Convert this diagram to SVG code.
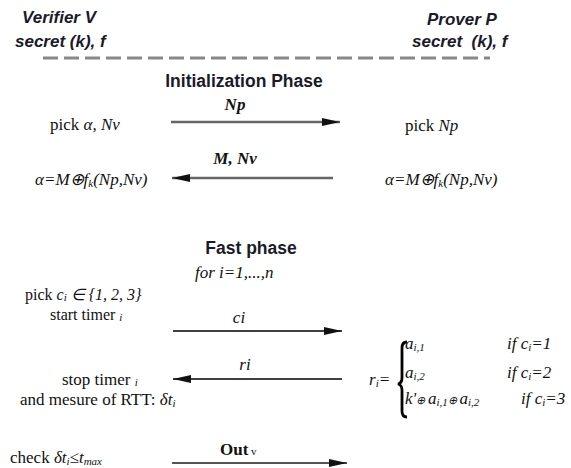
<svg xmlns="http://www.w3.org/2000/svg" width="571" height="468" viewBox="0 0 571 468">
<style>
.hd{font-family:"Liberation Sans",Arial,sans-serif;font-weight:bold;font-style:italic;font-size:17px;fill:#1a1a2a}
.ph{font-family:"Liberation Sans",Arial,sans-serif;font-weight:bold;font-size:17.5px;fill:#1a1a2a}
.t{font-family:"Liberation Serif","Times New Roman",serif;font-size:17px;fill:#111}
.i{font-style:italic}
.b{font-weight:bold}
.s{font-size:11px}
.m{font-size:16px}
.gl{stroke:#666;stroke-width:2.5;fill:none}
.bl{stroke:#000;stroke-width:1.5;fill:none}
.ol{stroke:#555;stroke-width:2;fill:none}
</style>
<defs>
<marker id="ag" viewBox="0 0 18 8" refX="18" refY="4" markerWidth="18" markerHeight="8" markerUnits="userSpaceOnUse" orient="auto"><path d="M0,0 L18,4 L0,8 z" fill="#111"/></marker>
</defs>
<g id="verifier">
<text class="hd" x="22" y="23">Verifier V</text>
<text class="hd" x="15" y="47">secret (k), f</text>
</g>
<g id="prover">
<text class="hd" x="427" y="25">Prover P</text>
<text class="hd" x="412" y="47" xml:space="preserve">secret  (k), f</text>
</g>
<line x1="43" y1="58" x2="490" y2="58" stroke="#888" stroke-width="3" stroke-dasharray="15 6"/>
<g id="init-phase">
<text class="ph" x="244" y="87" text-anchor="middle">Initialization Phase</text>
<text class="t" x="50" y="130">pick <tspan class="i">α, Nv</tspan></text>
<text class="t" x="405" y="131">pick <tspan class="i">Np</tspan></text>
<text class="t i" x="35" y="185">α=M⊕f<tspan class="s" dy="2">k</tspan><tspan dy="-2">(Np,Nv)</tspan></text>
<text class="t i" x="385" y="185">α=M⊕f<tspan class="s" dy="2">k</tspan><tspan dy="-2">(Np,Nv)</tspan></text>
</g>
<g id="fast-phase">
<text class="ph" x="251" y="254" text-anchor="middle">Fast phase</text>
<text class="t i" x="195" y="278">for i=1,...,n</text>
<text class="t m" x="25" y="300">pick <tspan class="i">c<tspan class="s" dy="1">i</tspan><tspan dy="-1"> ∈ {1, 2, 3}</tspan></tspan></text>
<text class="t m" x="50" y="320">start timer <tspan class="i s" dy="1">i</tspan></text>
<text class="t" x="62" y="385">stop timer <tspan class="i s" dy="1">i</tspan></text>
<text class="t" x="20" y="405">and mesure of RTT: <tspan class="i">δt<tspan class="s" dy="2">i</tspan></tspan></text>
<text class="t" x="10" y="463">check <tspan class="i">δt<tspan class="s" dy="2">i</tspan><tspan dy="-2">≤t</tspan><tspan class="s" dy="2">max</tspan></tspan></text>
</g>
<g id="response">
<text class="t i" x="369" y="385">r<tspan class="s" dy="2">i</tspan><tspan dy="-2">=</tspan></text>
<path d="M407,342 Q402,342 402,348 L402,378 Q402,383 398,384 Q402,385 402,390 L402,411 Q402,417 407,417" fill="none" stroke="#000" stroke-width="2.8"/>
<text class="t i" x="405" y="349">a<tspan class="s" dy="2">i,1</tspan></text>
<text class="t i" x="405" y="378">a<tspan class="s" dy="2">i,2</tspan></text>
<text class="t i" x="405" y="404">k'<tspan class="s">⊕ </tspan>a<tspan class="s" dy="2">i,1</tspan><tspan class="s" dy="-2">⊕ </tspan>a<tspan class="s" dy="2">i,2</tspan></text>
<text class="t i" x="507" y="349">if c<tspan class="s" dy="2">i</tspan><tspan dy="-2">=1</tspan></text>
<text class="t i" x="507" y="378">if c<tspan class="s" dy="2">i</tspan><tspan dy="-2">=2</tspan></text>
<text class="t i" x="521" y="404">if c<tspan class="s" dy="2">i</tspan><tspan dy="-2">=3</tspan></text>
</g>
<g id="connectors">
<line class="gl" x1="171" y1="122" x2="340" y2="122" marker-end="url(#ag)"/>
<text class="t i b" x="235" y="110" text-anchor="middle">Np</text>
<line class="gl" x1="333" y1="178" x2="172" y2="178" marker-end="url(#ag)"/>
<text class="t i b" x="235" y="164" text-anchor="middle">M, Nv</text>
<line class="bl" x1="173" y1="331" x2="342" y2="331" marker-end="url(#ag)"/>
<text class="t i" x="239" y="323" text-anchor="middle">ci</text>
<line class="bl" x1="342" y1="379" x2="173" y2="379" marker-end="url(#ag)"/>
<text class="t i" x="245" y="370" text-anchor="middle">ri</text>
<line class="ol" x1="172" y1="463" x2="347" y2="463" marker-end="url(#ag)"/>
<text class="t" x="220" y="455"><tspan class="b">Out</tspan><tspan class="s"> v</tspan></text>
</g>
</svg>
